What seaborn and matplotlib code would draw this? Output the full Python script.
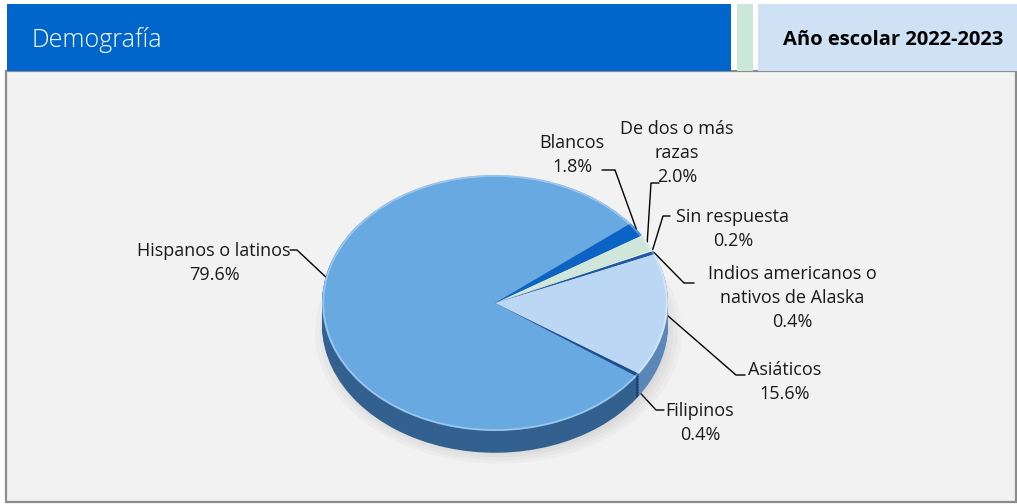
import numpy as np
import matplotlib
matplotlib.use("Agg")
import matplotlib.pyplot as plt
from matplotlib.patches import Rectangle, Ellipse
import seaborn as sns

# Data (counterclockwise from the Filipinos edge)
categories = ["Filipinos", "Asiáticos", "Indios americanos o\nnativos de Alaska",
              "Sin respuesta", "De dos o más\nrazas", "Blancos", "Hispanos o latinos"]
percents = [0.4, 15.6, 0.4, 0.2, 2.0, 1.8, 79.6]
pct_labels = ["0.4%", "15.6%", "0.4%", "0.2%", "2.0%", "1.8%", "79.6%"]
slice_colors = ["#1d4f8f", "#bcd7f3", "#1f5aa6", "#e8f2f0", "#cfe7db", "#0b63c6", "#69a9e2"]

title = "Demografía"
school_year = "Año escolar 2022-2023"

sns.set_theme(style="white")
plt.rcParams["font.family"] = ["Open Sans", "DejaVu Sans"]

W, H = 1017, 504
fig = plt.figure(figsize=(W / 100, H / 100), dpi=100)
fig.patch.set_facecolor("white")

# Overlay axes in image pixel coords (y down)
bg = fig.add_axes([0, 0, 1, 1])
bg.set_xlim(0, W)
bg.set_ylim(H, 0)
bg.axis("off")

# Panel and header
bg.add_patch(Rectangle((6, 71), 1010, 431, facecolor="#f2f2f2", edgecolor="#8c8c8c", lw=1.6, zorder=0))
bg.add_patch(Rectangle((7, 4), 724, 67, facecolor="#0066cc", edgecolor="none", zorder=1))
bg.add_patch(Rectangle((737, 4), 16, 67, facecolor="#cbe6da", edgecolor="none", zorder=1))
bg.add_patch(Rectangle((758, 4), 259, 67, facecolor="#cfe2f5", edgecolor="none", zorder=1))
bg.text(32, 40, title, color="white", fontsize=18, fontweight="light", va="center", ha="left", zorder=2)
bg.text(893, 40, school_year, color="black", fontsize=14.5, fontweight="bold", va="center", ha="center", zorder=2)

# Pie axes: radius 1 -> 173 px horizontally, 128 px vertically
cx, cy = 495, 303
rx, ry = 173, 128
xl, yl_lo, yl_hi = 1.2, -1.4, 1.2
left = cx - rx * xl
bottom = (H - cy) + yl_lo * ry
ax = fig.add_axes([left / W, bottom / H, 2 * xl * rx / W, (yl_hi - yl_lo) * ry / H])
ax.patch.set_alpha(0)

start = -35
depth = 0.17

# soft shadow
for i, a in enumerate([0.035, 0.035, 0.04, 0.045]):
    ax.add_patch(Ellipse((0.02, -depth - 0.06), 2.12 - i * 0.05, 2.05 - i * 0.05,
                         facecolor="#555555", edgecolor="none", alpha=a, zorder=0))

side_colors = ["#1a4070", "#5b87b8", "#1a4a88", "#a9c4bc", "#9cb8ab", "#0a4f9c", "#33618f"]

for k, off in enumerate(np.linspace(-depth, -0.005, 14)):
    ax.pie(percents, colors=side_colors, startangle=start, counterclock=True,
           center=(0, off), radius=1, wedgeprops=dict(linewidth=0))

wedges, _ = ax.pie(percents, colors=slice_colors, startangle=start, counterclock=True,
                   center=(0, 0), radius=1, wedgeprops=dict(linewidth=0))

# subtle rim highlight on the top face
ax.add_patch(Ellipse((0, 0), 1.985, 1.985, facecolor="none", edgecolor="white", lw=1.2, alpha=0.35, zorder=5))

ax.set_aspect("auto")
ax.set_xlim(-xl, xl)
ax.set_ylim(yl_lo, yl_hi)
ax.axis("off")

# Leader lines and labels (pixel positions in image coords)
elbows = [(656, 410), (736, 375), (684, 283), (663, 216), (651, 183), (615, 170), (297, 250)]
ends = [(664, 410), (745, 375), (694, 283), (670, 216), (659, 183), (602, 170), (290, 250)]
text_pos = [(700, 423), (785, 382), (792, 298), (733, 229), (677, 153), (572, 155), (214, 263)]
drops = [0.12, 0.0, 0.0, 0.0, 0.0, 0.0, 0.0]
turns = [0, 0, 0, 0, 0, 0, -13.5]

for w, lab, pct, el, en, tp, dr, tn in zip(wedges, categories, pct_labels, elbows, ends, text_pos, drops, turns):
    th = np.deg2rad((w.theta1 + w.theta2) / 2 + tn)
    px, py = ax.transData.transform((np.cos(th), np.sin(th) - dr))
    anchor = (px, H - py)
    bg.plot([anchor[0], el[0], en[0]], [anchor[1], el[1], en[1]], color="black", lw=1.0, zorder=6)
    bg.text(tp[0], tp[1], f"{lab}\n{pct}", ha="center", va="center", fontsize=13,
            color="#1a1a1a", linespacing=1.45, zorder=6)

fig.savefig("out.png", dpi=100)
